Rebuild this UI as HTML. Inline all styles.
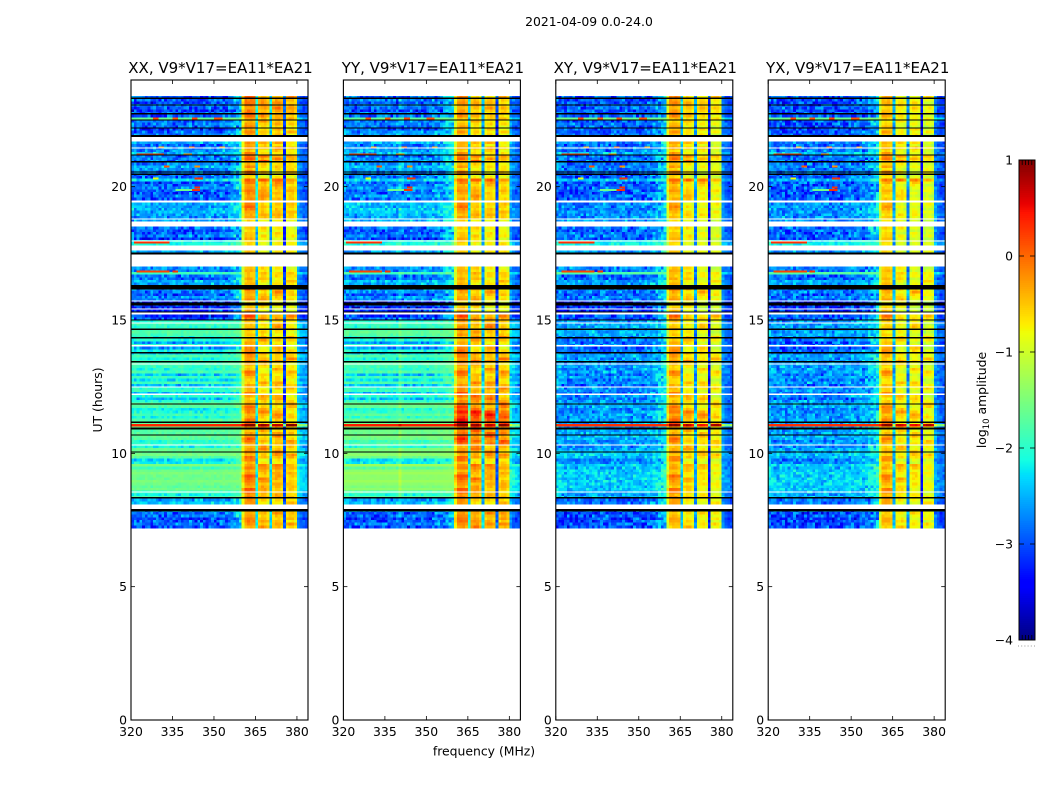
<!DOCTYPE html>
<html>
<head>
<meta charset="utf-8">
<title>2021-04-09 waterfall</title>
<style>
html,body{margin:0;padding:0;background:#fff;width:1050px;height:800px;overflow:hidden}
svg{display:block}
text{font-family:"DejaVu Sans","Liberation Sans",sans-serif;fill:#000}
</style>
</head>
<body>
<svg id="chart" xmlns="http://www.w3.org/2000/svg" width="1050" height="800" viewBox="0 0 1050 800">
<rect x="0" y="0" width="1050" height="800" fill="#fff"/>
<text x="589" y="26" font-size="12.4" text-anchor="middle">2021-04-09 0.0-24.0</text>
<text x="0" y="0" font-size="12.4" text-anchor="middle" transform="translate(102 400) rotate(-90)">UT (hours)</text>
<text x="484" y="755.5" font-size="12.4" text-anchor="middle">frequency (MHz)</text>
<text x="0" y="0" font-size="12.4" text-anchor="middle" transform="translate(986 400) rotate(-90)">log<tspan font-size="8.5" dy="3">10</tspan><tspan dy="-3"> amplitude</tspan></text>
<g id="panels"></g>
<g id="colorbar"></g>
</svg>
<script>
// ---- chart data ----
const panelTitles = ["XX, V9*V17=EA11*EA21", "YY, V9*V17=EA11*EA21", "XY, V9*V17=EA11*EA21", "YX, V9*V17=EA11*EA21"];
const freqTicks = [320, 335, 350, 365, 380];
const hourTicks = [0, 5, 10, 15, 20];
const colorbarTicks = [1, 0, -1, -2, -3, -4];
const firstRowHour = 23.4;
const lastRowHour = 7.2;
const rowStep = 0.1;
const channelCount = 64;
const edgeFloor = -3;

// top hour of each time segment (segment runs until the next entry)
const segmentHours = [23.4,22.62,22.52,22.2,21.68,21.3,21.15,20.9,20.45,20.3,20.2,19.35,18.8,18.49,18.0,17.78,17.45,16.99,16.82,16.7,16.5,16.16,15.71,15.19,15.0,14.65,14.34,13.77,13.44,12.49,11.85,11.55,11.14,10.95,10.31,10.05,9.79,9.64,8.59,8.33,7.84];
// log10 amplitude of the wide background per segment
const bgXX = [-3.0,-1.6,-3.0,-2.9,-2.8,-2.3,-2.9,-2.7,-3.0,-2.4,-3.0,-2.6,-2.7,-2.95,-2.2,-2.7,-2.7,-2.8,-1.7,-2.9,-2.6,-2.85,-3.3,-3.1,-2.0,-1.85,-2.1,-1.95,-1.95,-2.05,-1.8,-1.8,0.35,-1.75,-1.75,-1.65,-2.2,-1.6,-1.95,-2.4,-3.0];
const bgYY = [-2.9,-1.6,-2.9,-2.7,-2.7,-2.3,-2.8,-2.6,-2.8,-2.4,-2.8,-2.5,-2.6,-2.9,-2.2,-2.7,-2.7,-2.8,-1.7,-2.9,-2.5,-2.75,-3.3,-3.0,-2.0,-1.75,-2.1,-1.9,-1.9,-2.0,-1.65,-1.65,0.4,-1.6,-1.6,-1.5,-2.2,-1.4,-1.85,-2.4,-3.0];
const bgXY = [-3.0,-1.6,-3.0,-2.9,-2.85,-2.4,-2.9,-2.8,-3.0,-2.5,-3.0,-2.75,-2.75,-2.9,-2.2,-2.7,-2.7,-2.8,-1.7,-2.9,-2.6,-2.85,-3.3,-2.95,-2.65,-2.6,-2.8,-2.6,-2.65,-2.7,-2.6,-2.6,0.3,-2.6,-2.6,-2.45,-2.7,-2.4,-2.5,-2.8,-3.1];
const bgYX = [-3.05,-1.6,-3.05,-2.95,-2.85,-2.4,-2.9,-2.8,-3.0,-2.5,-3.0,-2.7,-2.75,-2.9,-2.2,-2.7,-2.7,-2.8,-1.7,-2.9,-2.6,-2.85,-3.3,-2.95,-2.65,-2.6,-2.8,-2.6,-2.65,-2.7,-2.6,-2.6,0.3,-2.6,-2.6,-2.45,-2.7,-2.4,-2.5,-2.8,-3.1];
// log10 amplitude of the bright 360-380 MHz band per segment
const bandXX = [-0.35,-0.55,-0.55,-0.6,-0.6,-0.65,-0.3,-0.65,-0.85,-0.1,-0.45,-0.5,-0.7,-0.75,-0.75,-0.75,-0.75,-0.75,-0.6,-0.75,-0.75,-0.55,-0.85,-0.45,-0.65,-0.7,-0.7,-0.45,-0.7,-0.7,-0.6,-0.55,0.7,-0.55,-0.55,-0.55,-0.7,-0.5,-0.5,-0.6,-0.5];
const bandYY = [-0.55,-0.7,-0.7,-0.75,-0.7,-0.7,-0.4,-0.75,-0.85,-0.1,-0.55,-0.55,-0.7,-0.75,-0.75,-0.75,-0.75,-0.75,-0.6,-0.75,-0.75,-0.6,-0.85,-0.45,-0.5,-0.5,-0.7,-0.4,-0.6,-0.45,-0.35,0.05,0.7,-0.25,-0.5,-0.5,-0.7,-0.5,-0.5,-0.6,-0.4];
const bandXY = [-0.5,-0.7,-0.7,-0.7,-0.7,-0.75,-0.4,-0.75,-0.85,-0.1,-0.6,-0.65,-0.75,-0.75,-0.75,-0.75,-0.75,-0.75,-0.6,-0.75,-0.75,-0.6,-0.9,-0.55,-0.7,-0.75,-0.75,-0.5,-0.75,-0.7,-0.65,-0.4,0.6,-0.6,-0.6,-0.65,-0.75,-0.65,-0.65,-0.65,-0.65];
const bandYX = [-0.65,-0.75,-0.75,-0.7,-0.7,-0.75,-0.4,-0.75,-0.85,-0.1,-0.7,-0.7,-0.75,-0.75,-0.75,-0.75,-0.75,-0.75,-0.6,-0.75,-0.75,-0.6,-0.9,-0.6,-0.7,-0.75,-0.75,-0.6,-0.75,-0.75,-0.65,-0.55,0.6,-0.65,-0.65,-0.65,-0.75,-0.65,-0.65,-0.65,-0.65];

// row-by-row deviations, in tenths of a decade
const rowDelta = [0,1,-1,2,0,-2,1,0,-1,1,2,0,-2,0,1,-1,0,2,-1,0,1,-2,0,1,0,-1,2,0,-1,1,0,1,-1,0,2,0,-1,1,0,-2,
1,0,1,1,0,-1,1,0,0,1,-1,0,1,-2,0,1,0,-1,1,0,0,2,0,-1,1,0,-2,1,0,1,0,-1,2,0,-3,1,0,-2,1,0,
0,1,-2,1,0,1,0,-1,1,0,-2,0,-5,1,-5,0,-4,1,-2,0,1,0,-1,1,-5,0,-4,1,-5,0,1,-4,0,-4,0,1,0,-4,-3,-1,
-3,0,1,0,1,0,0,1,0,-3,-2,-4,1,0,1,-1,-1,0,1,-3,0,1,0,0,1,0,-1,0,0,-2,1,-2,0,-3,1,-2,0,1,-1,0,1,0];
const bandRowDelta = [1,0,1,0,-1,0,1,1,0,-1,0,1,0,2,0,-1,0,1,0,1,-1,2,0,1,-1,0,2,-1,3,1,0,-1,1,-1,0,1,0,-1,0,1,
1,2,1,0,-1,0,-1,0,1,0,-1,0,0,1,0,-1,1,0,0,-1,1,0,-1,0,0,1,-1,0,1,0,1,1,2,0,-1,0,1,-1,0,1,
2,1,3,1,0,-1,0,1,-1,0,-1,0,1,0,2,3,1,0,-1,0,1,-1,0,3,2,0,-1,-1,1,0,0,3,1,-1,0,0,3,2,1,-1,
0,2,3,1,0,-1,0,1,3,2,0,-1,0,1,-1,2,3,0,0,1,-1,0,3,2,1,0,-1,3,2,0,1,1];
// which row stripes apply to which panel
const stripeGain = [1, 1, 0.35, 0.35];
// start row offset of the row pattern for each sub-band
const subbandShift = [0, 4, 9, 13];
// brightness of each sub-band, per panel
const subbandXX = [0.12, 0, 0, -0.05];
const subbandYY = [0.12, 0.05, 0, 0];
const subbandXY = [0.1, -0.05, -0.15, -0.2];
const subbandYX = [0.05, -0.1, -0.15, -0.2];
// 0 background, 1 bright band, 2 high-frequency edge
const channelKind = [0,0,0,0,0,0,0,0,0,0,0,0,0,0,0,0,0,0,0,0,0,0,0,0,0,0,0,0,0,0,0,0,0,0,0,0,0,0,0,0,
1,1,1,1,1,1,1,1,1,1,1,1,1,1,1,1,1,1,1,1,2,2,2,2];
// per-channel offsets (bandpass shape)
const channelOffset = [0.1,0.05,0,0,0.02,0.04,0,0,0.02,0,0.03,0,0,0.03,0.05,0.02,0,0,0.03,0,0.03,0.05,0,0,0.02,0.03,0,0.02,0.03,0.04,
0.05,0.05,0.1,0.1,0.12,0.15,0.25,0.4,0.5,0.6,
-0.4,0.1,0.15,0.12,0.05,-1.75,-0.05,0.05,0.05,-0.15,-1.9,-0.08,0.05,0.05,-0.08,-2.5,-0.1,0,0,-0.15,
0.35,0.1,-0.05,-0.1];
// channel of the faint vertical interference line seen only in YY
const yyLineChannel = 20;
const yyLineBoost = 0.2;
// small cell-to-cell residual texture
const speckle = [0.6,-0.9,0.2,1,-0.4,-1,0.7,0.1,-0.6,0.9,-0.2,0.4,-0.8,1,0,-1,0.5,-0.3,0.8,-0.7,0.3,-0.1,0.9,-0.5,-0.9,0.6,0.2,-0.4,1,-0.8,0.4,0,-0.6,0.7,-1,0.5,0.9,-0.2,-0.7,0.3,0.1];
// isolated bright cells: hour, first MHz, last MHz, value
const hotHours = [22.55,22.55,22.55,22.55,21.2,21.2,20.75,20.75,20.3,20.3,19.87,19.87,19.95,17.9,16.8,16.8,16.2,21.45,21.45,21.45];
const hotFirst = [328,335,342,350,322,339,332,343,343,328,342,336,343,321,322,335,357,330,341,352];
const hotLast = [329,336,343,352,331,341,333,344,345,329,344,341,344,333,333,336,357,331,342,353];
const hotValue = [0.2,0.1,0.2,0.1,0.2,-0.3,0.1,-0.2,0.3,-0.8,0.3,-1.6,0.3,0.3,0.2,0.3,0.3,-0.3,0.0,-0.3];
// missing data, hour ranges
const gapFrom = [7.91,15.19,16.99,17.63,18.49,19.35,21.68];
const gapTo = [8.14,15.3,17.45,17.78,18.68,19.54,21.85];
// flagged rows drawn as full-width lines: hour, thickness in hours
const blackHours = [23.31,23.06,22.73,22.5,22.2,21.9,21.19,20.94,20.55,20.46,17.5,16.23,15.6,15.3,15.0,14.65,14.34,13.77,13.44,11.85,11.17,10.93,10.69,10.05,8.33,7.87];
const blackWidths = [0.05,0.05,0.05,0.05,0.05,0.08,0.05,0.05,0.05,0.05,0.08,0.16,0.11,0.05,0.05,0.05,0.05,0.07,0.05,0.05,0.06,0.06,0.05,0.05,0.05,0.09];
const whiteHours = [21.45,18.79,17.96,15.71,15.41,14.89,14.04,13.35,12.49,12.22,10.31,8.55];
const whiteWidths = [0.05,0.05,0.05,0.05,0.05,0.05,0.05,0.05,0.05,0.05,0.05,0.05];

// ---- layout and scales ----
const bgLevels = [bgXX, bgYY, bgXY, bgYX];
const bandLevels = [bandXX, bandYY, bandXY, bandYX];
const subbandLevels = [subbandXX, subbandYY, subbandXY, subbandYX];
const NS = "http://www.w3.org/2000/svg";
const plotTop = 80, plotBottom = 720, plotWidth = 177, firstLeft = 131, panelStep = 212.4;
function panelLeft(p){ return firstLeft + panelStep * p; }
function xScale(p, mhz){ return panelLeft(p) + (mhz - 320) * plotWidth / 64; }
function yScale(h){ return plotBottom - h * (plotBottom - plotTop) / 24; }
function lerp(pts, t){
  for (let i = 1; i < pts.length; i++) {
    if (t <= pts[i][0]) {
      const a = pts[i-1], b = pts[i];
      return a[1] + (b[1]-a[1]) * (t-a[0]) / (b[0]-a[0]);
    }
  }
  return pts[pts.length-1][1];
}
const jetR = [[0,0],[0.35,0],[0.66,1],[0.89,1],[1,0.5]];
const jetG = [[0,0],[0.125,0],[0.375,1],[0.64,1],[0.91,0],[1,0]];
const jetB = [[0,0.5],[0.11,1],[0.34,1],[0.65,0],[1,0]];
function colorOf(v){
  const t = Math.max(0, Math.min(1, (v + 4) / 5));
  return "rgb(" + Math.round(255*lerp(jetR,t)) + "," + Math.round(255*lerp(jetG,t)) + "," + Math.round(255*lerp(jetB,t)) + ")";
}
function make(tag, parent, attrs){
  const el = document.createElementNS(NS, tag);
  for (const k in attrs) el.setAttribute(k, attrs[k]);
  parent.appendChild(el);
  return el;
}
function segmentIndex(h){
  let s = 0;
  for (let i = 0; i < segmentHours.length; i++) { if (segmentHours[i] >= h) s = i; }
  return s;
}
function inGap(h){
  for (let i = 0; i < gapFrom.length; i++) { if (h >= gapFrom[i] && h <= gapTo[i]) return true; }
  return false;
}
function subbandOf(c){ return c < 45 ? 0 : c < 50 ? 1 : c < 55 ? 2 : 3; }
function cellValue(p, r, c, s){
  const n = speckle.length;
  const tex = speckle[(r*r*3 + c*c*7 + r*c*5 + p*11) % n] * 0.6 + speckle[(c*r*r + r*c*c*2 + c*13 + r*3 + p*5) % n] * 0.6;
  const kind = channelKind[c];
  if (kind === 1) {
    const sub = subbandOf(c);
    const shifted = (r + subbandShift[sub]) % bandRowDelta.length;
    return bandLevels[p][s] + subbandLevels[p][sub] + bandRowDelta[shifted] * 0.13 + channelOffset[c] + tex * 0.1;
  }
  const lv = bgLevels[p][s] + (rowDelta[r] || 0) / 10 * stripeGain[p];
  if (kind === 2) {
    return (lv + edgeFloor) / 2 + channelOffset[c] * 0.7 + tex * 0.22;
  }
  const amp = Math.max(0, -1.3 - lv);
  const line = (p === 1 && c === yyLineChannel) ? yyLineBoost : 0;
  return lv + line + channelOffset[c] * amp / 1.7 + tex * amp * 0.3;
}

// ---- panels ----
const panelsGroup = document.getElementById("panels");
const rowCount = Math.round((firstRowHour - lastRowHour) / rowStep);
panelTitles.forEach(function(title, p){
  const g = make("g", panelsGroup, {});
  
  
  const cells = make("g", g, {"shape-rendering":"crispEdges"});
  
  
  for (let r = 0; r < rowCount; r++) {
    const hTop = firstRowHour - r * rowStep;
    const hMid = hTop - rowStep / 2;
    if (inGap(hMid)) continue;
    const s = segmentIndex(hMid);
    const y0 = yScale(hTop), y1 = yScale(hTop - rowStep);
    for (let c = 0; c < channelCount; c++) {
      const x0 = xScale(p, 320 + c), x1 = xScale(p, 321 + c);
      const cell = make("rect", cells, {x:x0.toFixed(2), y:y0.toFixed(2), width:(x1-x0+0.3).toFixed(2), height:(y1-y0+0.3).toFixed(2), fill:colorOf(cellValue(p,r,c,s))});
      
      
    }
  }
  hotHours.forEach(function(h, i){
    const hot = make("rect", cells, {x:xScale(p,hotFirst[i]).toFixed(2), y:yScale(h+rowStep/2).toFixed(2), width:(xScale(p,hotLast[i]+1)-xScale(p,hotFirst[i])).toFixed(2), height:"2", fill:colorOf(hotValue[i])});
    
    
  });
  whiteHours.forEach(function(h, i){
    const w = make("rect", cells, {x:panelLeft(p).toFixed(2), y:yScale(h+whiteWidths[i]/2).toFixed(2), width:plotWidth, height:Math.max(1,whiteWidths[i]*26.67).toFixed(2), fill:"#fff"});
    
    
  });
  blackHours.forEach(function(h, i){
    const b = make("rect", cells, {x:panelLeft(p).toFixed(2), y:yScale(h+blackWidths[i]/2).toFixed(2), width:plotWidth, height:Math.max(1,blackWidths[i]*26.67).toFixed(2), fill:"#000"});
    
    
  });
  const L = panelLeft(p), R = L + plotWidth;
  const frame = make("rect", g, {x:L.toFixed(1), y:plotTop, width:plotWidth, height:plotBottom-plotTop, fill:"none", stroke:"#000", "stroke-width":"1.1"});
  
  
  const t = make("text", g, {x:(L+plotWidth/2+1).toFixed(1), y:"73", "font-size":"15", "text-anchor":"middle"});
  t.textContent = title;
  
  
  freqTicks.forEach(function(f){
    const x = xScale(p, f);
    const a = make("line", g, {x1:x, x2:x, y1:plotBottom, y2:plotBottom-4, stroke:"#000", "stroke-width":"0.8"});
    
    
    const b = make("line", g, {x1:x, x2:x, y1:plotTop, y2:plotTop+4, stroke:"#000", "stroke-width":"0.8"});
    
    
    const lab = make("text", g, {x:x, y:"736", "font-size":"12.4", "text-anchor":"middle"});
    lab.textContent = String(f);
    
    
  });
  hourTicks.forEach(function(h){
    const y = yScale(h);
    const a = make("line", g, {x1:L, x2:L+4, y1:y, y2:y, stroke:"#000", "stroke-width":"0.8"});
    
    
    const b = make("line", g, {x1:R, x2:R-4, y1:y, y2:y, stroke:"#000", "stroke-width":"0.8"});
    
    
    const lab = make("text", g, {x:L-4, y:y+4.5, "font-size":"12.4", "text-anchor":"end"});
    lab.textContent = String(h);
    
    
  });
});

// ---- colorbar ----
const cb = document.getElementById("colorbar");
const cbLeft = 1019, cbRight = 1035, cbTop = 160, cbBottom = 640;
function cbY(v){ return cbBottom - (v + 4) * (cbBottom - cbTop) / 5; }
const cbStrip = make("g", cb, {"shape-rendering":"crispEdges"});


for (let v = -4; v < 1; v += 0.02) {
  const st = make("rect", cbStrip, {x:cbLeft, y:cbY(v+0.02).toFixed(2), width:cbRight-cbLeft, height:"2.2", fill:colorOf(v+0.01)});
  
  
}
const cbFrame = make("rect", cb, {x:cbLeft, y:cbTop, width:cbRight-cbLeft, height:cbBottom-cbTop, fill:"none", stroke:"#000", "stroke-width":"1"});


colorbarTicks.forEach(function(v){
  const y = cbY(v);
  const a = make("line", cb, {x1:cbLeft, x2:cbLeft+5, y1:y, y2:y, stroke:"#000", "stroke-width":"0.8"});
  
  
  const b = make("line", cb, {x1:cbRight, x2:cbRight-5, y1:y, y2:y, stroke:"#000", "stroke-width":"0.8"});
  
  
  const lab = make("text", cb, {x:"1013", y:y+4.5, "font-size":"12.4", "text-anchor":"end"});
  lab.textContent = String(v).replace("-", "\u2212");
  
  
});
[0, 1, 2, 3, 4, 5].forEach(function(i){
  const x = cbLeft + i * (cbRight - cbLeft) / 5;
  if (i > 0 && i < 5) {
    const a = make("line", cb, {x1:x, x2:x, y1:cbTop, y2:cbTop+5, stroke:"#000", "stroke-width":"0.8"});
    
    
    const b = make("line", cb, {x1:x, x2:x, y1:cbBottom, y2:cbBottom-5, stroke:"#000", "stroke-width":"0.8"});
    
    
  }
  const d = make("rect", cb, {x:x-1, y:"645.5", width:"1", height:"1", fill:"#999"});
  
  
});
</script>
</body>
</html>
